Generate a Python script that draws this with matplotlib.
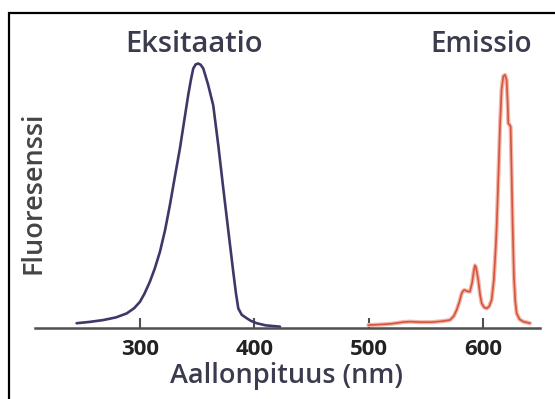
import matplotlib
matplotlib.use("Agg")
import matplotlib.pyplot as plt
from matplotlib.patches import Rectangle

# excitation spectrum (nm, relative intensity)
exc_nm = [244.6, 256, 267.9, 279, 288.4, 295, 300, 304, 308.7, 313, 317.5, 322,
          326.2, 330.5, 335.0, 339, 342.2, 344.5, 346.6, 348.8, 351.0, 353.2,
          355.4, 359.5, 364.1, 368.5, 372.9, 377.2, 381.6, 384, 386.0, 389,
          393.3, 397, 402.1, 410, 422.5]
exc_val = [0.018, 0.023, 0.030, 0.040, 0.055, 0.075, 0.099, 0.130, 0.175, 0.225,
           0.288, 0.370, 0.464, 0.570, 0.679, 0.790, 0.879, 0.935, 0.979, 0.995,
           0.998, 0.993, 0.979, 0.920, 0.840, 0.690, 0.526, 0.370, 0.212, 0.130,
           0.074, 0.050, 0.037, 0.027, 0.018, 0.010, 0.005]

# emission spectrum
emi_nm = [499.7, 510, 520, 530, 536.2, 545, 555, 565, 571.1, 574.5, 577.0, 579.5,
          581.4, 583.0, 584.3, 586.5, 588.6, 590.5, 592.0, 593.0, 594.0, 595.9,
          597.5, 598.9, 601.0, 603.3, 605.5, 607.6, 609.5, 611.0, 612.0, 613.5,
          614.9, 616.3, 617.8, 619.3, 620.7, 621.6, 622.2, 623.5, 624.2, 625.0,
          626.0, 627.1, 628.3, 629.5, 632.0, 635.3, 641.1]
emi_val = [0.011, 0.013, 0.016, 0.022, 0.024, 0.022, 0.022, 0.026, 0.030, 0.045,
           0.068, 0.100, 0.131, 0.142, 0.143, 0.138, 0.137, 0.170, 0.215, 0.236,
           0.228, 0.181, 0.125, 0.093, 0.078, 0.074, 0.082, 0.106, 0.180, 0.290,
           0.382, 0.570, 0.760, 0.900, 0.950, 0.955, 0.936, 0.850, 0.772, 0.765,
           0.760, 0.600, 0.382, 0.194, 0.100, 0.055, 0.033, 0.024, 0.018]

ticks = [300, 400, 500, 600]
tick_labels = ["300", "400", "500", "600"]

W, H = 555, 399
plt.rcParams['font.family'] = ['Open Sans', 'DejaVu Sans']

fig = plt.figure(figsize=(W / 100, H / 100), dpi=100)

def fx(px):
    return px / W

def fy(py):
    return 1 - py / H

# frame round the picture (only left and top edges fall inside)
fig.add_artist(Rectangle((fx(9), fy(H + 5)), fx(W + 20) - fx(9), fy(13) - fy(H + 5),
                         transform=fig.transFigure, fill=False, edgecolor='black',
                         linewidth=1.6))

# axes: baseline at pixel 328, top (value 1.0) at pixel 63, from x=35 to 540
ax = fig.add_axes([fx(35), fy(328), fx(540) - fx(35), fy(63) - fy(328)])
ax.set_xlim(208.2, 649.9)
ax.set_ylim(0, 1)

ax.plot(exc_nm, exc_val, color='#3d3868', lw=1.9, clip_on=False, solid_capstyle='round')
ax.plot(emi_nm, emi_val, color='#f2b7a8', lw=3.0, clip_on=False, solid_capstyle='round')
ax.plot(emi_nm, emi_val, color='#d4553f', lw=1.2, clip_on=False, solid_capstyle='round')

for s in ['top', 'right', 'left']:
    ax.spines[s].set_visible(False)
ax.spines['bottom'].set_color('#505050')
ax.spines['bottom'].set_linewidth(1.8)
ax.set_yticks([])
ax.set_xticks(ticks)
ax.set_xticklabels(tick_labels)
ax.tick_params(axis='x', direction='in', length=7, width=1.5, color='#505050',
               pad=8, labelsize=16, labelcolor='#222222')
for lab in ax.get_xticklabels():
    lab.set_fontweight('bold')

txt_color = '#3b3b4e'
fig.text(fx(194), fy(45), "Eksitaatio", ha='center', va='center', fontsize=21,
         color=txt_color, fontweight='semibold')
fig.text(fx(481), fy(45), "Emissio", ha='center', va='center', fontsize=20,
         color=txt_color, fontweight='semibold')
fig.text(fx(287), fy(376), "Aallonpituus (nm)", ha='center', va='center', fontsize=19.5,
         color=txt_color, fontweight='semibold')
fig.text(fx(34), fy(193), "Fluoresenssi", ha='center', va='center', rotation=90,
         fontsize=19.5, color='#444444', fontweight='semibold')

fig.savefig("out.png", dpi=100)
